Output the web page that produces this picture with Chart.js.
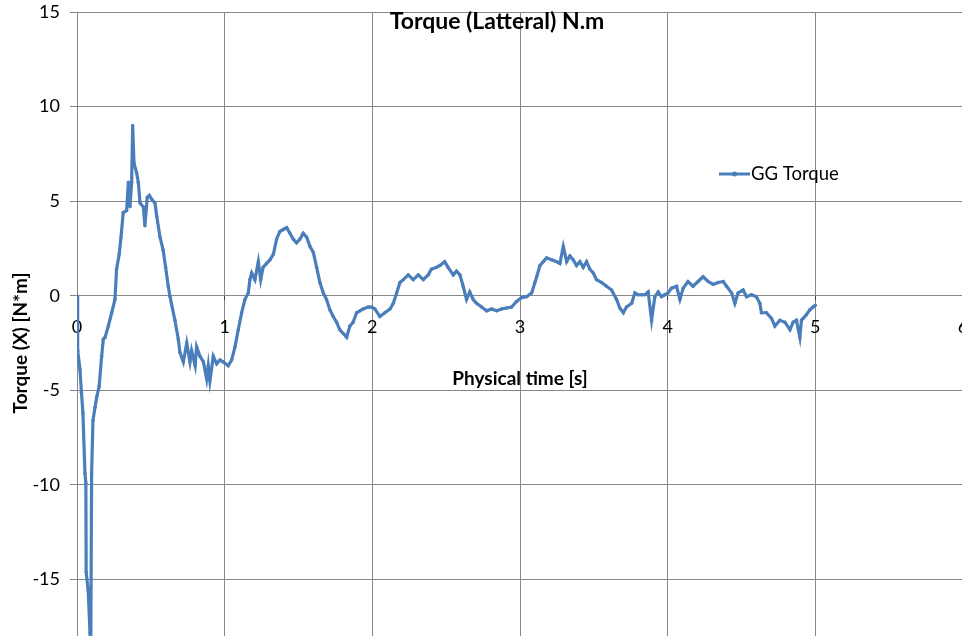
<!DOCTYPE html>
<html>
<head>
<meta charset="utf-8">
<script src="https://cdn.jsdelivr.net/npm/chart.js@4.4.1/dist/chart.umd.min.js"></script>
<style>
  html, body { margin: 0; padding: 0; background: #ffffff; overflow: hidden; }
  #wrap { position: absolute; left: 0; top: 0; width: 990px; height: 680px; }
</style>
</head>
<body>
<div id="wrap"><canvas id="torqueChart"></canvas></div>
<script>
// Lateral torque on the GG body versus physical time
const timeS = [
  0, 0.003, 0.006, 0.02, 0.03, 0.04, 0.054, 0.06, 0.062, 0.076, 0.088, 0.093, 0.099, 0.108, 0.122, 0.135, 0.15, 0.167, 0.178, 0.19,
  0.212, 0.235, 0.257, 0.268, 0.286, 0.298, 0.313, 0.336, 0.348, 0.359, 0.37, 0.377, 0.386, 0.404, 0.415, 0.427, 0.449, 0.46, 0.476, 0.49, 0.506, 0.528, 0.54, 0.562, 0.584, 0.6, 0.618, 0.63,
  0.663, 0.686, 0.697, 0.72, 0.743, 0.765, 0.776, 0.8, 0.81, 0.833, 0.856, 0.878, 0.889, 0.9, 0.923, 0.946, 0.968, 0.99, 1.024, 1.047, 1.07, 1.092, 1.115, 1.137,
  1.16, 1.171, 1.183, 1.205, 1.228, 1.244, 1.26, 1.283, 1.307, 1.33, 1.352, 1.374, 1.397, 1.42, 1.442, 1.464, 1.487, 1.51, 1.532, 1.555, 1.578, 1.6, 1.623, 1.645, 1.668, 1.69, 1.713, 1.735, 1.758, 1.78, 1.803, 1.826, 1.848, 1.87, 1.893, 1.916, 1.938, 1.972, 1.995,
  2.017, 2.051, 2.085, 2.12, 2.142, 2.165, 2.187, 2.21, 2.243, 2.277, 2.311, 2.345, 2.378, 2.4, 2.434, 2.458, 2.49, 2.513, 2.548, 2.57, 2.593, 2.615, 2.638, 2.66, 2.683, 2.706, 2.74, 2.774, 2.808, 2.842, 2.876, 2.909, 2.943, 2.977,
  3.011, 3.045, 3.079, 3.101, 3.113, 3.135, 3.158, 3.18, 3.214, 3.248, 3.27, 3.293, 3.316, 3.338, 3.36, 3.383, 3.406, 3.428, 3.451, 3.473, 3.496, 3.518, 3.553, 3.586, 3.62, 3.654, 3.676, 3.7, 3.721, 3.756, 3.778, 3.8, 3.823, 3.846, 3.868, 3.891, 3.913, 3.936, 3.958, 3.981,
  4.003, 4.026, 4.06, 4.083, 4.105, 4.138, 4.172, 4.206, 4.24, 4.274, 4.308, 4.342, 4.376, 4.399, 4.433, 4.455, 4.477, 4.511, 4.534, 4.568, 4.601, 4.624, 4.635, 4.669, 4.703, 4.726, 4.76, 4.794, 4.828, 4.85, 4.872, 4.895, 4.906, 4.917, 4.94, 4.962, 4.985, 5.0
];
const torqueNm = [
  0, -0.7, -2.9, -3.9, -5.1, -6.2, -9.4, -9.9, -14.6, -15.6, -17.8, -19.0, -9.4, -6.6, -5.9, -5.3, -4.8, -3.2, -2.3, -2.2,
  -1.6, -0.9, -0.2, 1.4, 2.2, 3.1, 4.4, 4.5, 6.0, 4.7, 6.0, 9.0, 7.0, 6.5, 6.0, 4.9, 4.7, 3.7, 5.2, 5.3, 5.1, 4.9, 4.2, 3.1, 2.4, 1.5, 0.5, -0.05,
  -1.3, -2.3, -3.0, -3.5, -2.5, -3.5, -2.9, -3.7, -2.7, -3.2, -3.5, -4.4, -3.7, -4.5, -3.2, -3.6, -3.4, -3.5, -3.7, -3.4, -2.7, -1.8, -0.9, -0.2,
  0.15, 0.85, 1.2, 0.85, 1.8, 0.85, 1.5, 1.7, 1.9, 2.2, 3.0, 3.4, 3.5, 3.6, 3.3, 3.0, 2.8, 3.0, 3.3, 3.1, 2.6, 2.3, 1.5, 0.7, 0.15, -0.2, -0.75, -1.1, -1.4, -1.8, -2.0, -2.2, -1.6, -1.4, -0.9, -0.8, -0.7, -0.6, -0.6,
  -0.7, -1.1, -0.9, -0.7, -0.4, 0.15, 0.7, 0.85, 1.1, 0.85, 1.1, 0.85, 1.1, 1.4, 1.5, 1.6, 1.8, 1.5, 1.1, 1.3, 1.1, 0.5, -0.2, 0.2, -0.2, -0.4, -0.6, -0.8, -0.7, -0.8, -0.7, -0.65, -0.6, -0.3,
  -0.1, -0.05, 0.15, 0.7, 1.0, 1.6, 1.8, 2.0, 1.9, 1.8, 1.7, 2.6, 1.8, 2.1, 1.9, 1.6, 1.8, 1.5, 1.8, 1.4, 1.2, 0.85, 0.7, 0.5, 0.3, -0.2, -0.65, -0.9, -0.6, -0.4, 0.15, 0.05, 0.05, 0.05, 0.2, -1.3, -0.05, 0.2, -0.05, 0.05,
  0.15, 0.4, 0.5, -0.2, 0.4, 0.75, 0.5, 0.75, 1.0, 0.75, 0.6, 0.7, 0.75, 0.5, 0.15, -0.4, 0.15, 0.3, -0.05, 0.05, -0.05, -0.4, -0.9, -0.9, -1.2, -1.6, -1.3, -1.4, -1.8, -1.4, -1.3, -2.2, -1.3, -1.2, -1.0, -0.75, -0.6, -0.5
];
const xTickValues = [0, 1, 2, 3, 4, 5, 6];
const yTickValues = [-20, -15, -10, -5, 0, 5, 10, 15];
const seriesName = 'GG Torque';
const chartTitle = 'Torque (Latteral) N.m';
const xTitle = 'Physical time [s]';
const yTitle = 'Torque (X) [N*m]';

const lineBlue = '#4a7ebb';
const gridGray = '#878787';

Chart.defaults.font.family = 'Lato, "Open Sans", sans-serif';
Chart.defaults.color = '#000000';

const points = timeS.map((t, i) => ({ x: t, y: torqueNm[i] }));

// Chart title and legend are drawn inside the plot area
const insideLabels = {
  id: 'insideLabels',
  afterDraw(chart) {
    const { ctx, chartArea } = chart;
    ctx.save();
    ctx.fillStyle = '#000000';
    ctx.textBaseline = 'middle';
    ctx.textAlign = 'center';
    ctx.font = 'bold 23px Lato';
    ctx.fillText(chartTitle, chartArea.left + 420, chartArea.top + 10);

    const lx = chartArea.left + 642, ly = chartArea.top + 162;
    ctx.strokeStyle = lineBlue;
    ctx.lineWidth = 3;
    ctx.beginPath();
    ctx.moveTo(lx, ly);
    ctx.lineTo(lx + 31, ly);
    ctx.stroke();
    ctx.fillStyle = lineBlue;
    ctx.beginPath();
    ctx.arc(lx + 15.5, ly, 2.5, 0, Math.PI * 2);
    ctx.fill();
    ctx.fillStyle = '#000000';
    ctx.textAlign = 'left';
    ctx.font = '18.5px Lato';
    ctx.fillText(seriesName, lx + 32, ly);
    ctx.restore();
  }
};

new Chart(document.getElementById('torqueChart'), {
  type: 'line',
  data: {
    datasets: [{
      label: seriesName,
      data: points,
      borderColor: lineBlue,
      backgroundColor: lineBlue,
      borderWidth: 3.2,
      pointRadius: 1.7,
      pointBorderWidth: 0,
      pointBackgroundColor: lineBlue,
      tension: 0,
      fill: false
    }]
  },
  options: {
    responsive: true,
    maintainAspectRatio: false,
    animation: false,
    layout: { padding: { left: 0, top: 12, right: 27, bottom: 6 } },
    plugins: {
      legend: { display: false },
      title: { display: false },
      tooltip: { enabled: false }
    },
    scales: {
      x: {
        type: 'linear',
        position: { y: 0 },
        min: 0,
        max: 6,
        afterBuildTicks(scale) { scale.ticks = xTickValues.map(v => ({ value: v })); },
        afterFit(scale) { scale.paddingLeft = 0; scale.paddingRight = 0; },
        ticks: { font: { size: 18 }, padding: 17, maxRotation: 0, callback: v => String(v) },
        grid: { color: gridGray, lineWidth: 1, drawTicks: true, tickLength: 4, tickColor: '#404040' },
        border: { display: true, color: gridGray, width: 1 },
        title: { display: true, text: xTitle, font: { size: 19, weight: 'bold' }, padding: { top: 12, bottom: 0 } }
      },
      y: {
        type: 'linear',
        position: 'left',
        min: -20,
        max: 15,
        afterBuildTicks(scale) { scale.ticks = yTickValues.map(v => ({ value: v })); },
        afterFit(scale) { scale.width = 77; scale.paddingTop = 0; scale.paddingBottom = 0; },
        ticks: { font: { size: 18 }, padding: 10, callback: v => String(v) },
        grid: { color: gridGray, lineWidth: 1, drawTicks: true, tickLength: 7 },
        border: { display: true, color: gridGray, width: 1 },
        title: { display: true, text: yTitle, font: { size: 19, weight: 'bold' }, padding: { top: 9, bottom: 0 } }
      }
    }
  },
  plugins: [insideLabels]
});
</script>
</body>
</html>
